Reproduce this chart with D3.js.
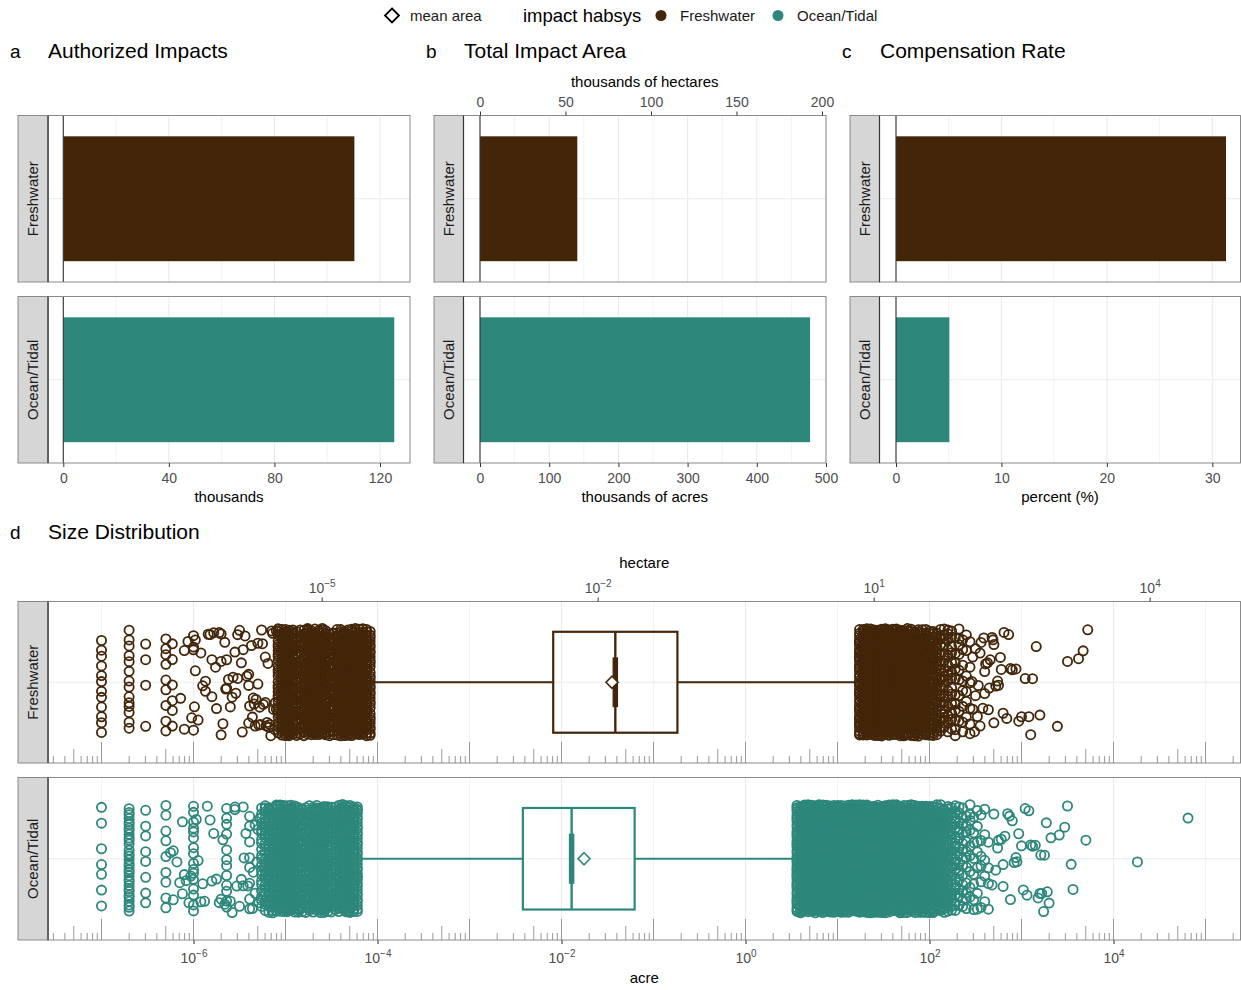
<!DOCTYPE html>
<html><head><meta charset="utf-8">
<script src="https://cdn.jsdelivr.net/npm/d3@7"></script>
<style>body{margin:0;background:#fff}svg{display:block}</style>
</head><body><svg id="chart" width="1241" height="990"></svg>
<script>
// ---------------- DATA ----------------
const habitats = ["Freshwater", "Ocean/Tidal"];
const habitatColors = ["#432609", "#2D877B"];
const authorizedImpacts = [110.3, 125.4];      // thousands
const impactAreaAcres = [140.6, 477.0];         // thousands of acres
const compensationRate = [31.3, 5.06];          // percent
const ticksA = [0, 40, 80, 120], minorA = [20, 60, 100];
const ticksB = [0, 100, 200, 300, 400, 500], minorB = [50, 150, 250, 350, 450];
const ticksBha = [0, 50, 100, 150, 200];
const ticksC = [0, 10, 20, 30], minorC = [5, 15, 25];
const ticksDacre = [1e-6, 1e-4, 1e-2, 1, 1e2, 1e4];
const ticksDha = [1e-5, 1e-2, 1e1, 1e4];
const ACRES_PER_HA = 2.471;
// boxplot stats, log10(acres): [whisker low, Q1, median, Q3, whisker high]
const boxFreshwater = [-4.06, -2.09, -1.415, -0.74, 1.24];
const boxOcean = [-4.21, -2.42, -1.89, -1.205, 0.564];
const meanArea = [-1.451, -1.755];              // log10(acres)
// individual impacts, log10(acres): [value, number of impacts]
const fwCounts = [[-7.00,12],[-6.70,14],[-6.52,4],[-6.30,9],[-6.23,6],
 [-5.08,28],[-5.04,46],[-5.00,50],[-4.96,46],[-4.92,44],[-4.88,24],[-4.84,18],[-4.80,32],[-4.76,44],[-4.72,44],
 [-4.68,40],[-4.64,44],[-4.60,40],[-4.56,44],[-4.52,24],[-4.48,22],[-4.44,40],[-4.40,46],[-4.36,44],[-4.32,46],
 [-4.28,44],[-4.24,46],[-4.20,44],[-4.16,46],[-4.12,44],[-4.08,32],
 [1.24,44],[1.28,56],[1.32,56],[1.36,56],[1.40,56],[1.44,56],[1.48,56],[1.52,56],[1.56,56],[1.60,52],[1.64,52],
 [1.68,52],[1.72,48],[1.76,48],[1.80,48],[1.84,44],[1.88,44],[1.92,40],[1.96,40],[2.00,36],[2.04,32],[2.08,24],
 [2.12,20],[2.16,17],[2.20,15],[2.24,13],[2.28,11],[2.32,9],[2.36,8],[2.40,6],[2.44,6]];
const fwSingles = [-6.14,-6.10,-6.10,-6.06,-6.02,-6.00,-6.00,-6.00,-6.00,-5.99,-5.98,-5.98,-5.95,-5.92,-5.90,-5.87,
 -5.87,-5.84,-5.82,-5.80,-5.80,-5.78,-5.76,-5.75,-5.72,-5.70,-5.70,-5.70,-5.68,-5.66,-5.65,-5.64,-5.64,-5.62,-5.60,
 -5.58,-5.57,-5.55,-5.54,-5.52,-5.52,-5.50,-5.48,-5.47,-5.46,-5.44,-5.42,-5.40,-5.40,-5.40,-5.39,-5.37,-5.36,-5.35,
 -5.34,-5.33,-5.32,-5.30,-5.30,-5.29,-5.28,-5.27,-5.26,-5.25,-5.24,-5.22,-5.22,-5.21,-5.20,-5.19,-5.18,-5.17,-5.16,
 -5.15,-5.14,-5.13,-5.12,-5.11,-5.10,-5.10,
 2.46,2.47,2.47,2.49,2.50,2.50,2.52,2.53,2.55,2.55,2.56,2.58,2.59,2.60,2.60,2.61,2.63,2.64,2.65,2.66,2.68,2.69,2.70,
 2.70,2.72,2.74,2.75,2.77,2.78,2.80,2.81,2.84,2.86,2.88,2.90,2.94,2.97,3.00,3.04,3.08,3.10,3.12,3.16,3.20,3.39,3.50,
 3.62,3.67,3.72];
const otCounts = [[-7.00,7],[-6.70,32],[-6.52,8],[-6.30,9],[-6.00,16],[-5.64,12],[-5.39,8],
 [-5.26,20],[-5.22,24],[-5.18,28],[-5.14,28],[-5.10,36],[-5.06,46],[-5.02,50],[-4.98,50],[-4.94,46],[-4.90,46],
 [-4.86,40],[-4.82,24],[-4.78,24],[-4.74,28],[-4.70,40],[-4.66,44],[-4.62,44],[-4.58,44],[-4.54,32],[-4.50,24],
 [-4.46,24],[-4.42,40],[-4.38,46],[-4.34,44],[-4.30,46],[-4.26,44],[-4.22,36],
 [0.56,44],[0.60,60],[0.64,60],[0.68,60],[0.72,60],[0.76,60],[0.80,60],[0.84,60],[0.88,60],[0.92,60],[0.96,60],
 [1.00,60],[1.04,60],[1.08,60],[1.12,60],[1.16,60],[1.20,60],[1.24,60],[1.28,60],[1.32,60],[1.36,60],[1.40,60],
 [1.44,60],[1.48,60],[1.52,60],[1.56,60],[1.60,60],[1.64,60],[1.68,60],[1.72,56],[1.76,56],[1.80,56],[1.84,56],
 [1.88,54],[1.92,52],[1.96,50],[2.00,48],[2.04,46],[2.08,44],[2.12,38],[2.16,32],[2.20,26],[2.24,22],[2.28,18],
 [2.32,15],[2.36,13],[2.40,11],[2.44,9],[2.48,8],[2.52,7],[2.56,6],[2.60,5],[2.64,4]];
const otSingles = [-6.25,-6.22,-6.22,-6.18,-6.15,-6.12,-6.12,-6.10,-6.08,-6.05,-6.03,-5.97,-5.95,-5.92,-5.90,-5.88,
 -5.85,-5.82,-5.80,-5.78,-5.75,-5.72,-5.70,-5.68,-5.66,-5.60,-5.58,-5.55,-5.55,-5.53,-5.50,-5.48,-5.46,-5.46,-5.45,
 -5.43,-5.41,-5.36,-5.35,-5.33,-5.33,-5.31,-5.30,-5.29,-5.28,
 2.68,2.70,2.72,2.74,2.75,2.78,2.80,2.80,2.82,2.85,2.87,2.88,2.90,2.92,2.94,2.95,2.97,3.00,3.02,3.04,3.06,3.08,3.10,
 3.12,3.15,3.18,3.20,3.21,3.22,3.24,3.25,3.27,3.28,3.30,3.32,3.41,3.47,3.50,3.54,3.56,3.70,4.26,4.81];

// ---------------- STYLE / LAYOUT ----------------
const FONT = '"Liberation Sans", Arial, Helvetica, sans-serif';
const GRID = "#EBEBEB", BORDER = "#8A8A8A", STRIP = "#D6D6D6", TICKTXT = "#4D4D4D";
const svg = d3.select("#chart").attr("font-family", FONT);
const facetABC = [[115.5, 282], [296.5, 463]];
const facetD = [[601.5, 763], [777.5, 940]];

function line(g, x1, y1, x2, y2, c, w) {
  return g.append("line").attr("x1", x1).attr("y1", y1).attr("x2", x2).attr("y2", y2)
    .attr("stroke", c).attr("stroke-width", w);
}
function txt(x, y, s, size, fill, anchor) {
  return svg.append("text").attr("x", x).attr("y", y).text(s).attr("font-size", size)
    .attr("fill", fill || "#000").attr("text-anchor", anchor || "start");
}
function styleAxis(g) {
  g.select(".domain").remove();
  g.selectAll(".tick line").attr("stroke", "#333").attr("stroke-width", 1);
  g.selectAll(".tick text").attr("fill", TICKTXT).attr("font-size", 14).attr("font-family", FONT);
}
function strip(g, s0, s1, y0, y1, label) {
  g.append("rect").attr("x", s0).attr("y", y0).attr("width", s1 - s0).attr("height", y1 - y0)
    .attr("fill", STRIP).attr("stroke", BORDER).attr("stroke-width", 1);
  line(g, s1, y0, s1, y1, "#333", 1.2);
  g.append("text").attr("transform", `translate(${(s0 + s1) / 2 + 5},${(y0 + y1) / 2}) rotate(-90)`)
    .attr("text-anchor", "middle").attr("font-size", 15).attr("fill", "#1A1A1A").text(label);
}
function panelTitle(x, y, letter, title) {
  txt(x, y, letter, 19, "#000");
  txt(x + 38, y, title, 21, "#000");
}

// ---------------- LEGEND ----------------
(function () {
  const g = svg.append("g");
  const dx = 392, dy = 15.5, s = 7;
  g.append("path").attr("d", `M${dx},${dy - s}L${dx + s},${dy}L${dx},${dy + s}L${dx - s},${dy}Z`)
    .attr("fill", "#fff").attr("stroke", "#000").attr("stroke-width", 1.8);
  txt(410, 21, "mean area", 15, "#1A1A1A");
  txt(523, 22, "impact habsys", 18.5, "#000");
  g.append("circle").attr("cx", 661).attr("cy", 15.5).attr("r", 5.5).attr("fill", habitatColors[0]);
  txt(680, 21, habitats[0], 15, "#1A1A1A");
  g.append("circle").attr("cx", 778).attr("cy", 15.5).attr("r", 5.5).attr("fill", habitatColors[1]);
  txt(797, 21, habitats[1], 15, "#1A1A1A");
})();

// ---------------- BAR PANELS ----------------
function drawBarPanel(P) {
  habitats.forEach((h, i) => {
    const [y0, y1] = facetABC[i];
    const yb = d3.scaleBand().domain([h]).range([y0, y1]).paddingInner(0.1).paddingOuter(0.15);
    const g = svg.append("g");
    g.append("rect").attr("x", P.x0).attr("y", y0).attr("width", P.x1 - P.x0).attr("height", y1 - y0).attr("fill", "#fff");
    P.minor.forEach(t => line(g, P.sx(t), y0, P.sx(t), y1, GRID, 0.6));
    P.major.forEach(t => line(g, P.sx(t), y0, P.sx(t), y1, GRID, 1.1));
    const yc = yb(h) + yb.bandwidth() / 2;
    line(g, P.x0, yc, P.x1, yc, GRID, 1.1);
    g.append("rect").attr("x", P.sx(0)).attr("y", yb(h))
      .attr("width", P.sx(P.values[i]) - P.sx(0)).attr("height", yb.bandwidth())
      .attr("fill", habitatColors[i]);
    line(g, P.sx(0), y0, P.sx(0), y1, "#333", 1.1);
    g.append("rect").attr("x", P.x0).attr("y", y0).attr("width", P.x1 - P.x0).attr("height", y1 - y0)
      .attr("fill", "none").attr("stroke", BORDER).attr("stroke-width", 1);
    strip(g, P.s0, P.x0, y0, y1, h);
  });
  const ax = svg.append("g").attr("transform", `translate(0,${facetABC[1][1]})`)
    .call(d3.axisBottom(P.sx).tickValues(P.major).tickSize(4).tickPadding(6).tickFormat(d3.format("d")));
  styleAxis(ax);
  txt((P.x0 + P.x1) / 2, 502, P.xTitle, 15, "#000", "middle");
  panelTitle(P.s0 - 8, 58, P.letter, P.title);
}

drawBarPanel({ s0: 18, x0: 48, x1: 410, sx: d3.scaleLinear().domain([0, 120]).range([63.3, 380]),
  values: authorizedImpacts, major: ticksA, minor: minorA, xTitle: "thousands",
  letter: "a", title: "Authorized Impacts" });

const sxB = d3.scaleLinear().domain([0, 500]).range([480, 826]);
drawBarPanel({ s0: 434, x0: 463.5, x1: 826, sx: sxB,
  values: impactAreaAcres, major: ticksB, minor: minorB, xTitle: "thousands of acres",
  letter: "b", title: "Total Impact Area" });
(function () {
  const sxHa = d3.scaleLinear().domain(sxB.domain().map(d => d / ACRES_PER_HA)).range(sxB.range());
  const ax = svg.append("g").attr("transform", `translate(0,${facetABC[0][0]})`)
    .call(d3.axisTop(sxHa).tickValues(ticksBha).tickSize(4).tickPadding(5).tickFormat(d3.format("d")));
  styleAxis(ax);
  txt((463.5 + 826) / 2, 87, "thousands of hectares", 15, "#000", "middle");
})();

drawBarPanel({ s0: 850, x0: 879.5, x1: 1240.5, sx: d3.scaleLinear().domain([0, 30]).range([896, 1212.3]),
  values: compensationRate, major: ticksC, minor: minorC, xTitle: "percent (%)",
  letter: "c", title: "Compensation Rate" });

// ---------------- SIZE DISTRIBUTION ----------------
const xD = d3.scaleLog().domain([1e-6, 1e4]).range([193.5, 1113.5]);
const DX0 = 48, DX1 = 1240.5, DS0 = 18;
// deterministic vertical jitter: hashed for single impacts, evenly spread within repeated values
function hash(k) { const s = Math.sin(k * 127.1 + 311.7) * 43758.5453; return s - Math.floor(s); }
function buildPoints(singles, counts, seed) {
  const pts = singles.map((v, k) => ({ v, j: hash(k + seed) }));
  counts.forEach(([v, n], c) => {
    const off = hash(c * 3.7 + seed + 1000);
    for (let m = 0; m < n; m++) {
      const s = off + m * 0.6180339887;
      pts.push({ v, j: s - Math.floor(s) });
    }
  });
  return pts;
}
const groups = [
  { box: boxFreshwater, pts: buildPoints(fwSingles, fwCounts, 11) },
  { box: boxOcean, pts: buildPoints(otSingles, otCounts, 57) }
];
function expLabel(sel, fmtExp) {
  sel.selectAll(".tick text").each(function (d) {
    const t = d3.select(this);
    t.text(null);
    t.append("tspan").text("10");
    t.append("tspan").attr("dy", "-0.6em").attr("font-size", 10)
      .text(String(fmtExp(d)).replace("-", "\u2212"));
  });
}

habitats.forEach((h, i) => {
  const [y0, y1] = facetD[i];
  const yb = d3.scaleBand().domain([h]).range([y0, y1]).paddingInner(0.1).paddingOuter(0.15);
  const step = yb.step(), yc = yb(h) + yb.bandwidth() / 2;
  const col = habitatColors[i];
  const g = svg.append("g");
  g.append("rect").attr("x", DX0).attr("y", y0).attr("width", DX1 - DX0).attr("height", y1 - y0).attr("fill", "#fff");
  for (let e = -7; e <= 5; e++) {
    const px = xD(Math.pow(10, e));
    if (px >= DX0 && px <= DX1) line(g, px, y0, px, y1, GRID, e % 2 === 0 ? 1.1 : 0.6);
  }
  line(g, DX0, yc, DX1, yc, GRID, 1.1);
  // log ticks along the bottom
  for (let e = -8; e <= 5; e++) {
    for (let m = 1; m <= 9; m++) {
      const px = xD(m * Math.pow(10, e));
      if (px < DX0 || px > DX1) continue;
      const len = m === 1 ? 21 : (m === 5 ? 14 : 7);
      line(g, px, y1 - len, px, y1, "#999", 1);
    }
  }
  // jittered points
  const grp = groups[i];
  g.append("g").selectAll("circle").data(grp.pts).join("circle")
    .attr("cx", d => xD(Math.pow(10, d.v)))
    .attr("cy", d => yc + (d.j * 2 - 1) * 0.4 * step)
    .attr("r", 4.6).attr("fill", "none").attr("stroke", col).attr("stroke-width", 1.8);
  // boxplot
  const [lo, q1, med, q3, hi] = grp.box.map(v => xD(Math.pow(10, v)));
  const bw = 0.75 * step;
  line(g, lo, yc, q1, yc, col, 2);
  line(g, q3, yc, hi, yc, col, 2);
  g.append("rect").attr("x", q1).attr("y", yc - bw / 2).attr("width", q3 - q1).attr("height", bw)
    .attr("fill", "none").attr("stroke", col).attr("stroke-width", 2.2);
  line(g, med, yc - bw / 2, med, yc + bw / 2, col, 2.4);
  line(g, med, yc - 0.185 * step, med, yc + 0.185 * step, col, 5.5);
  const mx = xD(Math.pow(10, meanArea[i])), s = 6;
  g.append("path").attr("d", `M${mx},${yc - s}L${mx + s},${yc}L${mx},${yc + s}L${mx - s},${yc}Z`)
    .attr("fill", "#fff").attr("stroke", col).attr("stroke-width", 1.6);
  g.append("rect").attr("x", DX0).attr("y", y0).attr("width", DX1 - DX0).attr("height", y1 - y0)
    .attr("fill", "none").attr("stroke", BORDER).attr("stroke-width", 1);
  strip(g, DS0, DX0, y0, y1, h);
});

(function () {
  const axB = svg.append("g").attr("transform", `translate(0,${facetD[1][1]})`)
    .call(d3.axisBottom(xD).tickValues(ticksDacre).tickSize(4).tickPadding(9));
  styleAxis(axB);
  expLabel(axB, d => Math.round(Math.log10(d)));
  txt((DX0 + DX1) / 2, 983, "acre", 15, "#000", "middle");
  const xHa = d3.scaleLog().domain(xD.domain().map(d => d / ACRES_PER_HA)).range(xD.range());
  const axT = svg.append("g").attr("transform", `translate(0,${facetD[0][0]})`)
    .call(d3.axisTop(xHa).tickValues(ticksDha).tickSize(4).tickPadding(4.5));
  styleAxis(axT);
  expLabel(axT, d => Math.round(Math.log10(d)));
  txt((DX0 + DX1) / 2, 568, "hectare", 15, "#000", "middle");
  panelTitle(10, 539, "d", "Size Distribution");
})();
</script>
</body></html>
